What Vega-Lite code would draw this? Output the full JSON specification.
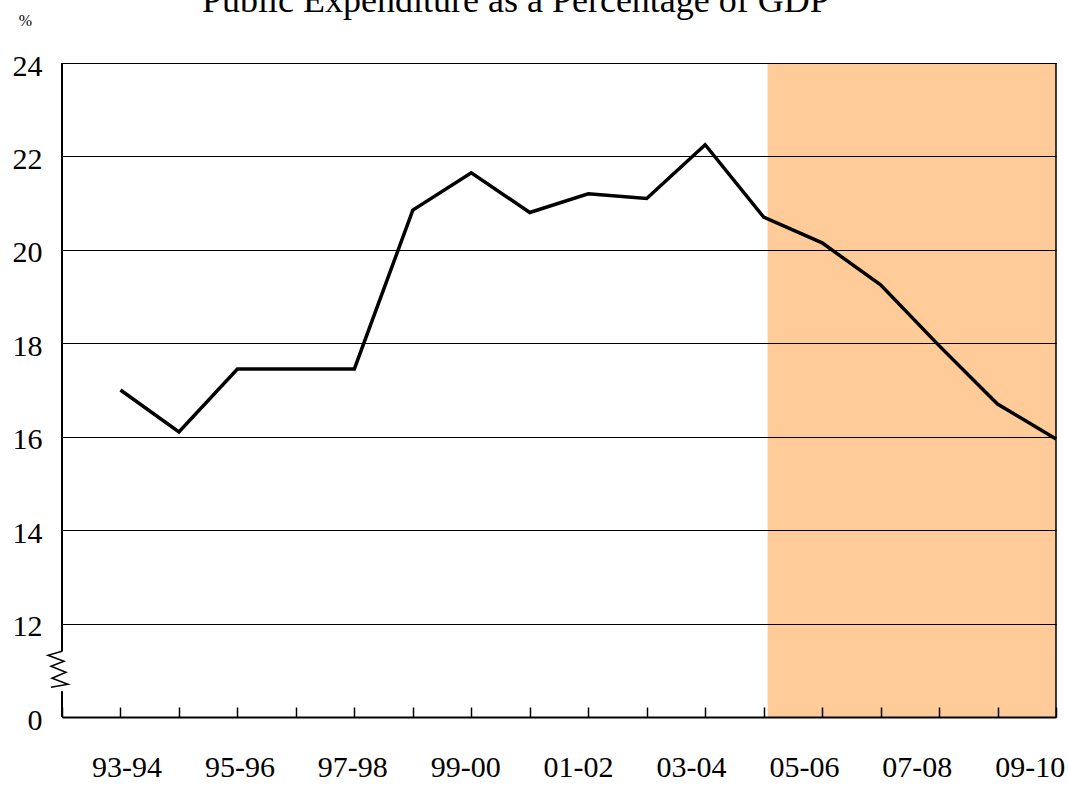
{
  "$schema": "https://vega.github.io/schema/vega-lite/v6.json",
  "autosize": "none",
  "padding": {"left": 62, "top": 63, "right": 12, "bottom": 68},
  "width": 994,
  "height": 654,
  "background": "white",
  "config": {
    "font": "Liberation Serif",
    "view": {"stroke": null}
  },
  "title": {
    "text": "Public Expenditure as a Percentage of GDP",
    "font": "Liberation Serif",
    "fontSize": 36,
    "fontWeight": "normal",
    "color": "black",
    "anchor": "start",
    "frame": "group",
    "dx": 140,
    "baseline": "alphabetic",
    "offset": -36
  },
  "resolve": {"scale": {"x": "independent"}, "axis": {"x": "independent"}},
  "data": {
    "values": [
      {"year": "93-94", "pct": 17.0},
      {"year": "94-95", "pct": 16.1},
      {"year": "95-96", "pct": 17.45},
      {"year": "96-97", "pct": 17.45},
      {"year": "97-98", "pct": 17.45},
      {"year": "98-99", "pct": 20.85},
      {"year": "99-00", "pct": 21.65},
      {"year": "00-01", "pct": 20.8},
      {"year": "01-02", "pct": 21.2},
      {"year": "02-03", "pct": 21.1},
      {"year": "03-04", "pct": 22.25},
      {"year": "04-05", "pct": 20.7},
      {"year": "05-06", "pct": 20.15},
      {"year": "06-07", "pct": 19.25},
      {"year": "07-08", "pct": 17.95},
      {"year": "08-09", "pct": 16.7},
      {"year": "09-10", "pct": 15.95}
    ]
  },
  "layer": [
    {
      "layer": [
        {
          "data": {"values": [{"period": "Forecast", "start": "04-05", "end": "09-10"}]},
          "mark": {"type": "rect", "color": "#FFCC99", "opacity": 1, "xOffset": 4, "x2Offset": 0},
          "encoding": {
            "x": {"field": "start", "type": "ordinal"},
            "x2": {"field": "end"}
          }
        },
        {
          "mark": {"type": "line", "color": "black", "strokeWidth": 3.5, "strokeJoin": "miter"},
          "encoding": {
            "x": {
              "field": "year",
              "type": "ordinal",
              "scale": {
                "type": "point",
                "padding": 0,
                "domain": ["92-93", "93-94", "94-95", "95-96", "96-97", "97-98", "98-99", "99-00", "00-01", "01-02", "02-03", "03-04", "04-05", "05-06", "06-07", "07-08", "08-09", "09-10"]
              },
              "sort": null,
              "axis": {
                "title": null,
                "zindex": 1,
                "domainColor": "black",
                "domainWidth": 2,
                "tickColor": "black",
                "tickWidth": 1.5,
                "tickSize": -10,
                "labels": false,
                "grid": false
              }
            },
            "y": {
              "field": "pct",
              "type": "quantitative",
              "scale": {"domain": [10, 24], "zero": false, "nice": false},
              "axis": {
                "title": "%",
                "titleAngle": 0,
                "titleX": -37,
                "titleY": -43,
                "titleAlign": "center",
                "titleBaseline": "middle",
                "titleFontSize": 16,
                "titleFontWeight": "normal",
                "titleColor": "black",
                "titleFont": "Liberation Serif",
                "zindex": 1,
                "values": [10, 12, 14, 16, 18, 20, 22, 24],
                "labelExpr": "datum.value == 10 ? '0' : datum.value",
                "domain": false,
                "ticks": false,
                "labelPadding": 20,
                "labelOffset": 3,
                "labelFontSize": 30,
                "labelColor": "black",
                "labelFont": "Liberation Serif",
                "grid": true,
                "gridColor": "black",
                "gridWidth": 1,
                "gridOpacity": 1
              }
            }
          }
        },
        {
          "data": {"values": [{"edge": "left-lower"}]},
          "mark": {"type": "rule", "color": "black", "strokeWidth": 2},
          "encoding": {
            "x": {"datum": "92-93", "type": "ordinal"},
            "y": {"datum": 10, "type": "quantitative"},
            "y2": {"datum": 10.55}
          }
        },
        {
          "data": {"values": [{"edge": "left-upper"}]},
          "mark": {"type": "rule", "color": "black", "strokeWidth": 2},
          "encoding": {
            "x": {"datum": "92-93", "type": "ordinal"},
            "y": {"datum": 11.4, "type": "quantitative"},
            "y2": {"datum": 24}
          }
        },
        {
          "data": {"values": [{"edge": "right"}]},
          "mark": {"type": "rule", "color": "black", "strokeWidth": 1.5},
          "encoding": {
            "x": {"datum": "09-10", "type": "ordinal"},
            "y": {"datum": 10, "type": "quantitative"},
            "y2": {"datum": 24}
          }
        },
        {
          "data": {"values": [{"symbol": "axis break"}]},
          "mark": {
            "type": "point",
            "shape": "M0,-0.95 L-0.7,-0.75 L0.1,-0.45 L-0.55,-0.2 L0.2,0.1 L-0.5,0.4 L0.3,0.7 L-0.55,0.85",
            "filled": false,
            "stroke": "black",
            "strokeWidth": 1.5,
            "size": 1600,
            "opacity": 1
          },
          "encoding": {
            "x": {"datum": "92-93", "type": "ordinal"},
            "y": {"datum": 11, "type": "quantitative"}
          }
        }
      ]
    },
    {
      "data": {
        "values": [
          {"label": "93-94"}, {"label": "95-96"}, {"label": "97-98"},
          {"label": "99-00"}, {"label": "01-02"}, {"label": "03-04"},
          {"label": "05-06"}, {"label": "07-08"}, {"label": "09-10"}
        ]
      },
      "mark": {
        "type": "text",
        "font": "Liberation Serif",
        "fontSize": 30,
        "baseline": "alphabetic",
        "align": "center",
        "dy": 60,
        "color": "black"
      },
      "encoding": {
        "x": {
          "field": "label",
          "type": "ordinal",
          "sort": null,
          "scale": {"type": "point", "padding": 0.402, "align": 0.716},
          "axis": null
        },
        "y": {"datum": 10, "type": "quantitative"},
        "text": {"field": "label"}
      }
    }
  ]
}
